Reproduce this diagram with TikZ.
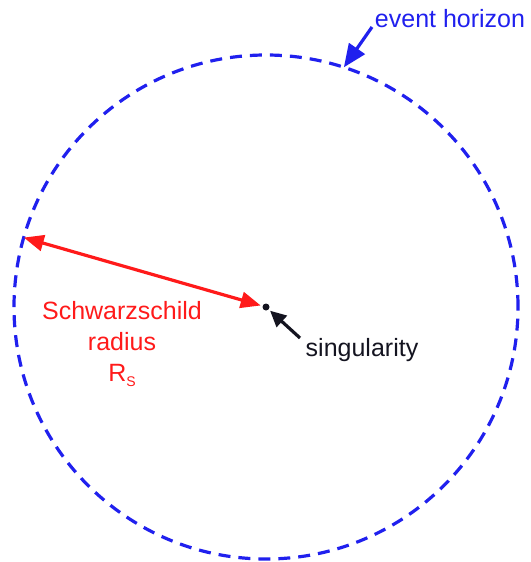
\documentclass[tikz,border=0pt]{standalone}
\usepackage{fontspec}
\setmainfont{Liberation Sans}
\usepackage{tikz}
\usetikzlibrary{arrows.meta,positioning}
\definecolor{hblue}{HTML}{2020EE}
\definecolor{rred}{HTML}{FF1A1A}
\definecolor{ink}{HTML}{141420}
\tikzset{
  >={Triangle[length=20pt,width=16pt]},
  every picture/.style={line width=3.2pt,font=\fontsize{25}{31}\selectfont},
  horizon/.style={circle,draw=hblue,dash pattern=on 12pt off 8pt,minimum size=504pt,inner sep=0pt,outer sep=0pt},
  dot/.style={circle,fill=ink,minimum size=7pt,inner sep=0pt,outer sep=2pt},
  arr/.style={->,line width=3.2pt},
  lab/.style={align=center,inner sep=1pt},
}
\begin{document}
\begin{tikzpicture}[x=1pt,y=-1pt]
  \useasboundingbox (0,0) rectangle (530,562);
  \node[horizon] (eh) at (266,307) {};
  \node[dot] (sing) at (266,307) {};
  \node[lab,text=hblue] (ehl) at (450,19) {event horizon};
  \node[lab,text=ink] (sgl) at (362,350) {singularity};
  \node[lab,text=rred] (rsl) at (122,344) {Schwarzschild\\radius\\R\raisebox{-5pt}{\fontsize{14}{14}\selectfont S}};
  \coordinate (ehtail) at (372,27);
  \coordinate (sgtail) at (300,338);
  \draw[arr,hblue,>={Triangle[length=23pt,width=19pt]}] (ehtail) -- (eh.72);
  \draw[arr,ink,>={Triangle[length=16pt,width=15pt]}] (sgtail) -- (sing);
  \draw[arr,<->,rred] (eh.164) -- (sing);
\end{tikzpicture}
\end{document}
